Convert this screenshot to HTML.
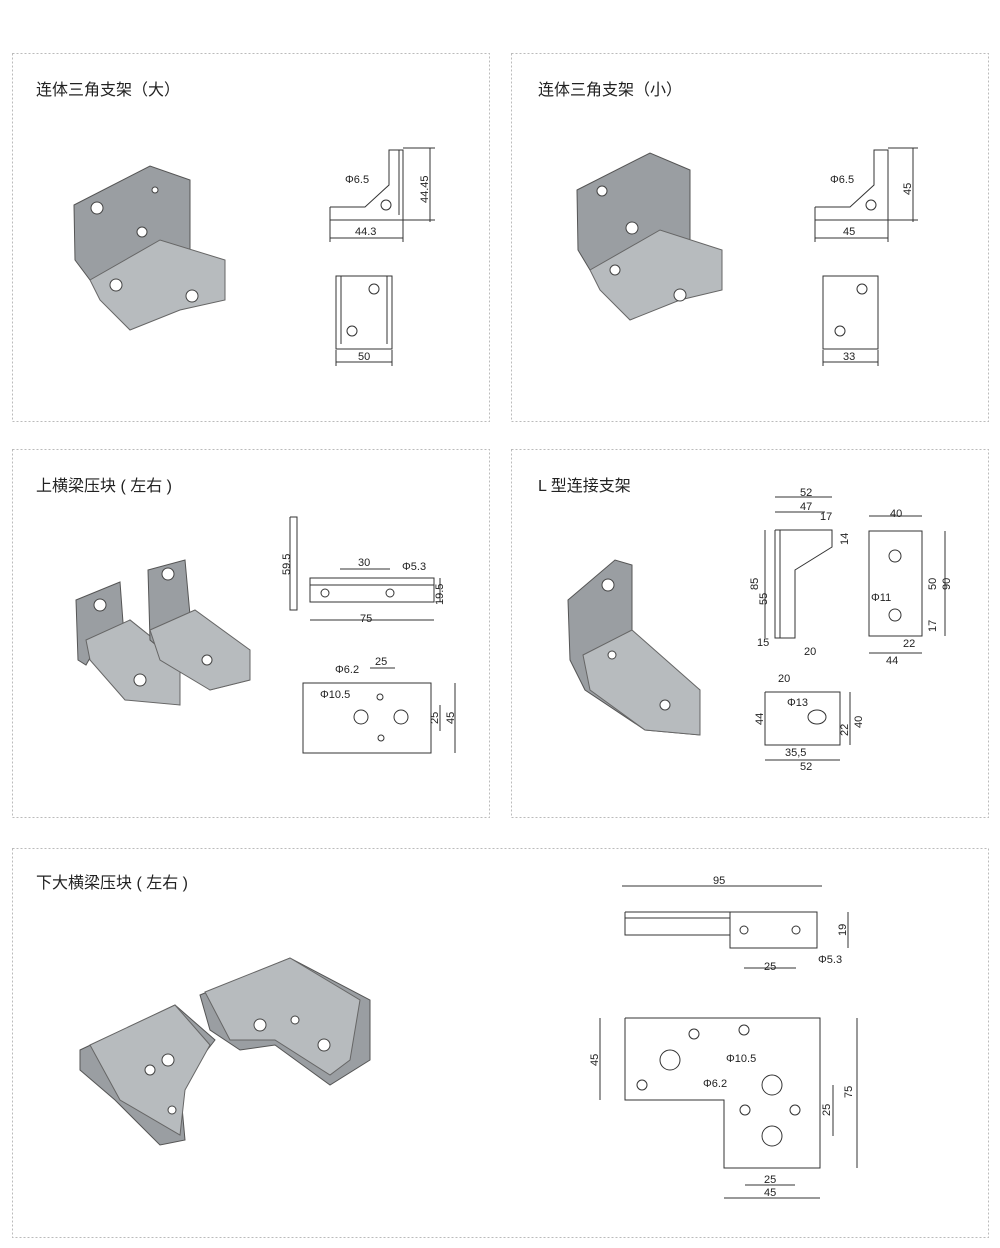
<!DOCTYPE html>
<html><head><meta charset="utf-8"><style>
body{margin:0;background:#fff;}
svg{display:block;font-family:"Liberation Sans","Noto Sans CJK SC",sans-serif;}
.p{fill:none;stroke:#bbb;stroke-width:1;stroke-dasharray:2,2}
.t{font-size:16px;fill:#222}
.d{fill:none;stroke:#333;stroke-width:1}
.s{font-size:11px;fill:#222}
.m{fill:#9a9ea2;stroke:#555;stroke-width:1}
.m2{fill:#b7bbbe;stroke:#666;stroke-width:1}
.h{fill:#fff;stroke:#444}
</style></head><body>
<svg width="1000" height="1248" viewBox="0 0 1000 1248">
<rect class="p" x="12.5" y="53.5" width="477" height="368"/>
<rect class="p" x="511.5" y="53.5" width="477" height="368"/>
<rect class="p" x="12.5" y="449.5" width="477" height="368"/>
<rect class="p" x="511.5" y="449.5" width="477" height="368"/>
<rect class="p" x="12.5" y="848.5" width="976" height="389"/>
<text class="t" x="36" y="95">连体三角支架（大）</text>
<text class="t" x="538" y="95">连体三角支架（小）</text>
<text class="t" x="36" y="491">上横梁压块 ( 左右 )</text>
<text class="t" x="538" y="491">L 型连接支架</text>
<text class="t" x="36" y="888">下大横梁压块 ( 左右 )</text>

<!-- photo 1 -->
<g>
<polygon class="m" points="74,205 150,166 190,180 190,260 130,300 90,280 75,260"/>
<polygon class="m2" points="90,280 160,240 225,260 225,300 180,310 130,330 100,300"/>
<circle class="h" cx="97" cy="208" r="6"/><circle class="h" cx="142" cy="232" r="5"/><circle class="h" cx="116" cy="285" r="6"/><circle class="h" cx="192" cy="296" r="6"/><circle class="h" cx="155" cy="190" r="3"/>
</g>
<!-- photo 2 -->
<g>
<polygon class="m" points="577,190 650,153 690,170 690,250 630,290 590,270 578,250"/>
<polygon class="m2" points="590,270 660,230 722,250 722,290 680,300 630,320 600,290"/>
<circle class="h" cx="602" cy="191" r="5"/><circle class="h" cx="632" cy="228" r="6"/><circle class="h" cx="615" cy="270" r="5"/><circle class="h" cx="680" cy="295" r="6"/>
</g>
<!-- drawing 1 -->
<g class="d">
<polyline points="330,207 365,207 389,185 389,150 403,150 403,220 330,220 330,207"/>
<line x1="399" y1="150" x2="399" y2="215"/>
<circle cx="386" cy="205" r="5"/>
<line x1="403" y1="148" x2="435" y2="148"/><line x1="430" y1="148" x2="430" y2="222"/><line x1="403" y1="220" x2="435" y2="220"/>
<line x1="330" y1="220" x2="330" y2="242"/><line x1="403" y1="220" x2="403" y2="242"/><line x1="330" y1="238" x2="403" y2="238"/>
<rect x="336" y="276" width="56" height="73"/><line x1="341" y1="276" x2="341" y2="344"/><line x1="387" y1="276" x2="387" y2="344"/>
<circle cx="374" cy="289" r="5"/><circle cx="352" cy="331" r="5"/>
<line x1="336" y1="350" x2="336" y2="366"/><line x1="392" y1="350" x2="392" y2="366"/><line x1="336" y1="362" x2="392" y2="362"/>
</g>
<text class="s" x="345" y="183">Φ6.5</text>
<text class="s" x="355" y="235">44.3</text>
<text class="s" x="358" y="360">50</text>
<text class="s" transform="translate(428,203) rotate(-90)">44.45</text>
<!-- drawing 2 -->
<g class="d">
<polyline points="815,207 850,207 874,185 874,150 888,150 888,220 815,220 815,207"/>
<circle cx="871" cy="205" r="5"/>
<line x1="888" y1="148" x2="918" y2="148"/><line x1="913" y1="148" x2="913" y2="222"/><line x1="888" y1="220" x2="918" y2="220"/>
<line x1="815" y1="220" x2="815" y2="242"/><line x1="888" y1="220" x2="888" y2="242"/><line x1="815" y1="238" x2="888" y2="238"/>
<rect x="823" y="276" width="55" height="73"/><circle cx="862" cy="289" r="5"/><circle cx="840" cy="331" r="5"/>
<line x1="823" y1="350" x2="823" y2="366"/><line x1="878" y1="350" x2="878" y2="366"/><line x1="823" y1="362" x2="878" y2="362"/>
</g>
<text class="s" x="830" y="183">Φ6.5</text>
<text class="s" x="843" y="235">45</text>
<text class="s" x="843" y="360">33</text>
<text class="s" transform="translate(911,195) rotate(-90)">45</text>
<!-- photo 3 -->
<polygon class="m" points="76,600 120,582 128,690 180,705 180,660 130,620 100,640 86,665 78,660"/>
<polygon class="m2" points="86,640 130,620 180,660 180,705 125,700 90,660"/>
<polygon class="m" points="148,570 185,560 190,615 250,650 250,680 210,690 150,640"/>
<polygon class="m2" points="150,630 195,610 250,650 250,680 210,690 160,660"/>
<circle class="h" cx="100" cy="605" r="6"/><circle class="h" cx="168" cy="574" r="6"/><circle class="h" cx="140" cy="680" r="6"/><circle class="h" cx="207" cy="660" r="5"/>
<!-- drawing 3 -->
<g class="d">
<polyline points="290,517 297,517 297,610 290,610 290,517"/>
<rect x="310" y="578" width="124" height="24"/><line x1="310" y1="585" x2="434" y2="585"/>
<circle cx="325" cy="593" r="4"/><circle cx="390" cy="593" r="4"/>
<line x1="310" y1="620" x2="434" y2="620"/><line x1="340" y1="569" x2="390" y2="569"/><line x1="440" y1="578" x2="440" y2="602"/>
<rect x="303" y="683" width="128" height="70"/><circle cx="361" cy="717" r="7"/><circle cx="401" cy="717" r="7"/><circle cx="380" cy="697" r="3"/><circle cx="381" cy="738" r="3"/>
<line x1="440" y1="705" x2="440" y2="731"/><line x1="455" y1="683" x2="455" y2="753"/><line x1="370" y1="668" x2="395" y2="668"/>
</g>
<text class="s" transform="translate(290,575) rotate(-90)">59.5</text>
<text class="s" x="358" y="566">30</text><text class="s" x="402" y="570">Φ5.3</text>
<text class="s" x="360" y="622">75</text>
<text class="s" transform="translate(443,605) rotate(-90)">19.5</text>
<text class="s" x="335" y="673">Φ6.2</text><text class="s" x="375" y="665">25</text><text class="s" x="320" y="698">Φ10.5</text>
<text class="s" transform="translate(438,724) rotate(-90)">25</text><text class="s" transform="translate(454,724) rotate(-90)">45</text>
<!-- photo 4 -->
<polygon class="m" points="568,600 615,560 632,565 632,640 700,690 700,735 645,730 585,690 570,660"/>
<polygon class="m2" points="583,655 632,630 700,690 700,735 645,730 590,690"/>
<circle class="h" cx="608" cy="585" r="6"/><circle class="h" cx="612" cy="655" r="4"/><circle class="h" cx="665" cy="705" r="5"/>
<!-- drawing 4 -->
<g class="d">
<polyline points="775,530 832,530 832,547 795,570 795,638 775,638 775,530"/>
<line x1="780" y1="530" x2="780" y2="638"/><line x1="765" y1="530" x2="765" y2="638"/><line x1="775" y1="497" x2="832" y2="497"/><line x1="775" y1="512" x2="825" y2="512"/>
<rect x="869" y="531" width="53" height="105"/><circle cx="895" cy="556" r="6"/><circle cx="895" cy="615" r="6"/>
<line x1="869" y1="516" x2="922" y2="516"/><line x1="869" y1="653" x2="922" y2="653"/><line x1="945" y1="531" x2="945" y2="636"/>
<polyline points="765,692 840,692 840,745 765,745 765,692"/><ellipse cx="817" cy="717" rx="9" ry="7"/>
<line x1="765" y1="760" x2="840" y2="760"/><line x1="850" y1="692" x2="850" y2="745"/>
</g>
<text class="s" x="800" y="496">52</text><text class="s" x="800" y="510">47</text><text class="s" x="820" y="520">17</text>
<text class="s" transform="translate(758,590) rotate(-90)">85</text><text class="s" transform="translate(767,605) rotate(-90)">55</text>
<text class="s" x="757" y="646">15</text><text class="s" x="804" y="655">20</text><text class="s" transform="translate(848,545) rotate(-90)">14</text>
<text class="s" x="890" y="517">40</text><text class="s" x="871" y="601">Φ11</text><text class="s" transform="translate(936,590) rotate(-90)">50</text>
<text class="s" transform="translate(950,590) rotate(-90)">90</text><text class="s" x="903" y="647">22</text><text class="s" transform="translate(936,632) rotate(-90)">17</text>
<text class="s" x="886" y="664">44</text><text class="s" x="778" y="682">20</text><text class="s" x="787" y="706">Φ13</text>
<text class="s" transform="translate(763,725) rotate(-90)">44</text><text class="s" transform="translate(848,736) rotate(-90)">22</text><text class="s" transform="translate(862,728) rotate(-90)">40</text>
<text class="s" x="785" y="756">35,5</text><text class="s" x="800" y="770">52</text>
<!-- photo 5 -->
<polygon class="m" points="80,1050 175,1005 215,1040 180,1085 185,1140 160,1145 115,1100 80,1070"/>
<polygon class="m2" points="90,1045 175,1005 210,1045 185,1090 180,1135 120,1100"/>
<polygon class="m" points="200,995 290,958 370,1000 370,1060 330,1085 275,1045 240,1050 210,1030"/>
<polygon class="m2" points="205,992 290,958 360,1000 350,1060 330,1075 275,1040 230,1040"/>
<circle class="h" cx="168" cy="1060" r="6"/><circle class="h" cx="150" cy="1070" r="5"/><circle class="h" cx="172" cy="1110" r="4"/><circle class="h" cx="260" cy="1025" r="6"/><circle class="h" cx="324" cy="1045" r="6"/><circle class="h" cx="295" cy="1020" r="4"/>
<!-- drawing 5 -->
<g class="d">
<polyline points="625,912 817,912 817,948 730,948 730,935 625,935 625,912"/>
<line x1="625" y1="918" x2="730" y2="918"/><line x1="730" y1="912" x2="730" y2="948"/>
<circle cx="744" cy="930" r="4"/><circle cx="796" cy="930" r="4"/>
<line x1="622" y1="886" x2="822" y2="886"/><line x1="744" y1="968" x2="796" y2="968"/><line x1="848" y1="912" x2="848" y2="948"/>
<polyline points="625,1018 820,1018 820,1168 724,1168 724,1100 625,1100 625,1018"/>
<circle cx="670" cy="1060" r="10"/><circle cx="772" cy="1085" r="10"/><circle cx="772" cy="1136" r="10"/>
<circle cx="694" cy="1034" r="5"/><circle cx="744" cy="1030" r="5"/><circle cx="642" cy="1085" r="5"/><circle cx="745" cy="1110" r="5"/><circle cx="795" cy="1110" r="5"/>
<line x1="600" y1="1018" x2="600" y2="1100"/><line x1="857" y1="1018" x2="857" y2="1168"/><line x1="833" y1="1085" x2="833" y2="1136"/>
<line x1="745" y1="1185" x2="795" y2="1185"/><line x1="724" y1="1198" x2="820" y2="1198"/>
</g>
<text class="s" x="713" y="884">95</text><text class="s" x="764" y="970">25</text><text class="s" x="818" y="963">Φ5.3</text>
<text class="s" transform="translate(846,936) rotate(-90)">19</text>
<text class="s" transform="translate(598,1066) rotate(-90)">45</text><text class="s" transform="translate(852,1098) rotate(-90)">75</text>
<text class="s" transform="translate(830,1116) rotate(-90)">25</text>
<text class="s" x="726" y="1062">Φ10.5</text><text class="s" x="703" y="1087">Φ6.2</text>
<text class="s" x="764" y="1183">25</text><text class="s" x="764" y="1196">45</text>
</svg>
</body></html>
